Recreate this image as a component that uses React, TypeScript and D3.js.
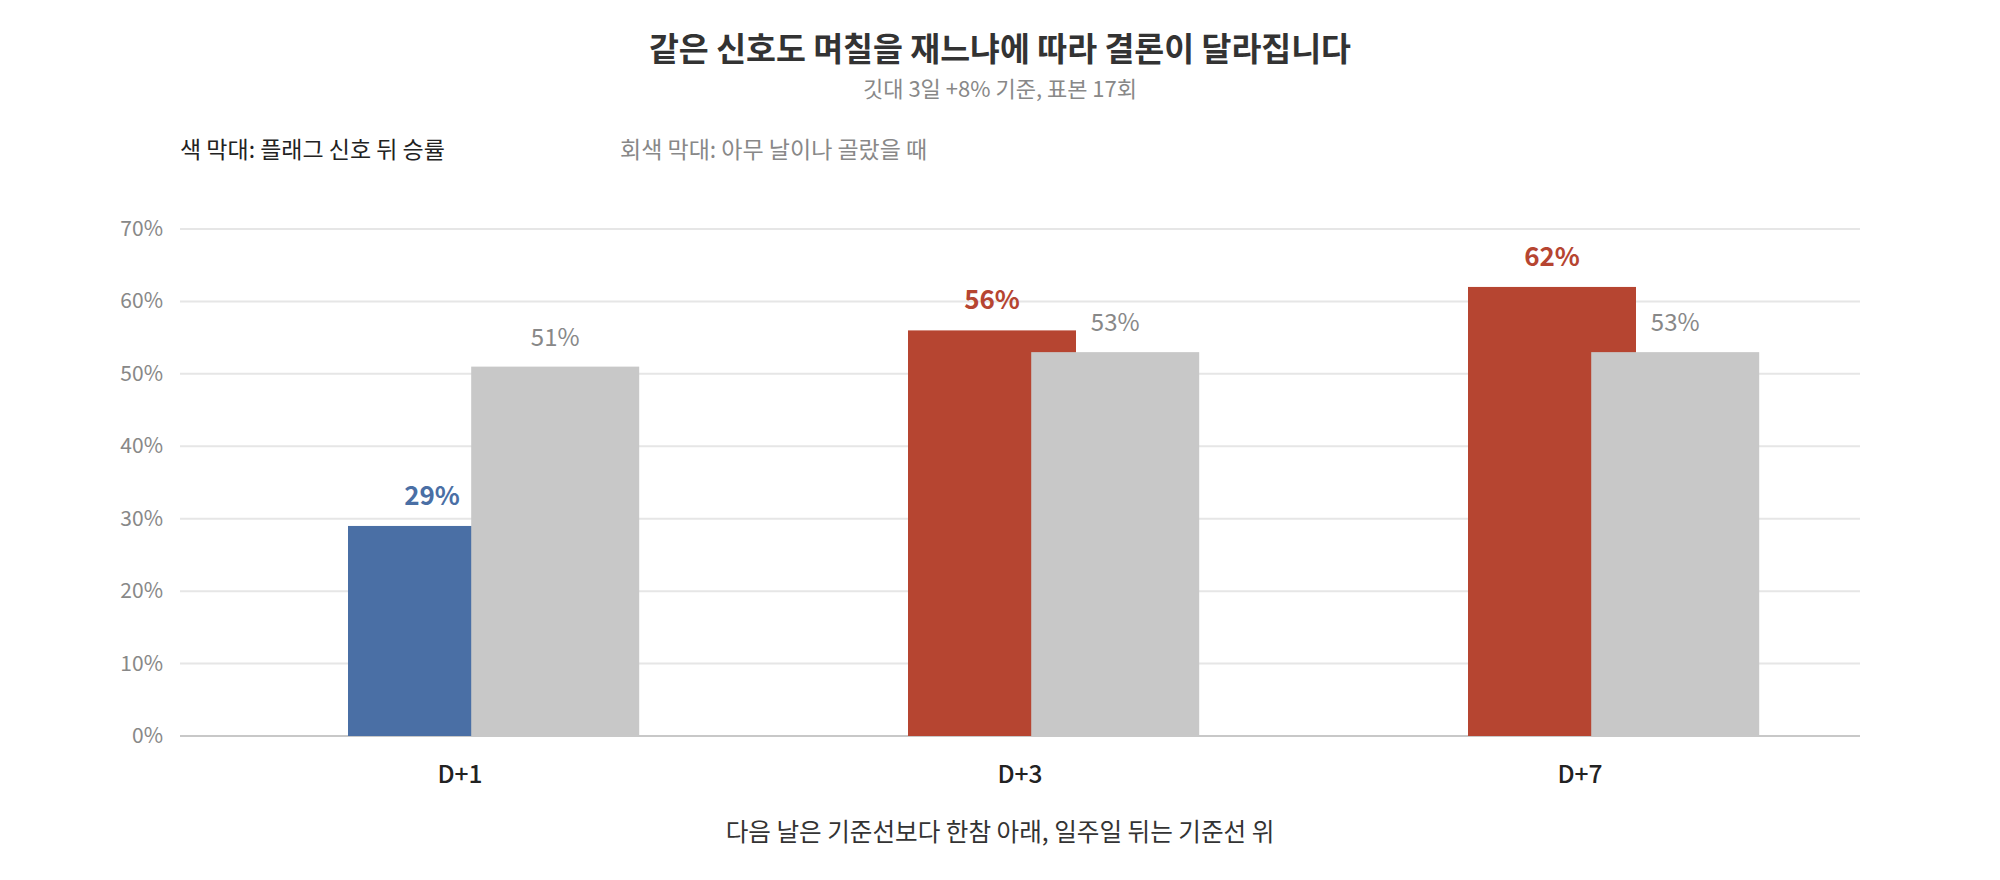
import * as d3 from "d3";

const categories = ["D+1", "D+3", "D+7"];
const signalWinRate = [29, 56, 62];
const randomWinRate = [51, 53, 53];
const signalColors = ["#4a6fa5", "#b64531", "#b64531"];
const yTicks = [0, 10, 20, 30, 40, 50, 60, 70];

const title = "같은 신호도 며칠을 재느냐에 따라 결론이 달라집니다";
const subtitle = "깃대 3일 +8% 기준, 표본 17회";
const legendSignal = "색 막대: 플래그 신호 뒤 승률";
const legendRandom = "회색 막대: 아무 날이나 골랐을 때";
const caption = "다음 날은 기준선보다 한참 아래, 일주일 뒤는 기준선 위";

const width = 2000;
const height = 880;
const marginLeft = 180;
const marginRight = 140;
const plotTop = 229;
const plotBottom = 736;
const font = "'Noto Sans CJK KR', 'Noto Sans', sans-serif";
const grayBar = "#c8c8c8";

export default function App() {
  const x = d3.scaleBand(categories, [marginLeft, width - marginRight]);
  const y = d3.scaleLinear([0, 70], [plotBottom, plotTop]);
  const bw = x.bandwidth();
  // colored bar sits left, gray one overlaps it on the right
  const barWidth = bw * 0.3;
  const signalOffset = bw * 0.3;
  const randomOffset = bw * 0.52;

  return (
    <div style={{ position: "fixed", left: 0, top: 0 }}>
      <svg width={width} height={height} style={{ display: "block", fontFamily: font }}>
        <rect width={width} height={height} fill="#fff" />
        <text x={width / 2} y={61} textAnchor="middle" fontSize={32.5} fontWeight={700} fill="#333">
          {title}
        </text>
        <text x={width / 2} y={97} textAnchor="middle" fontSize={22} fill="#888">
          {subtitle}
        </text>
        <text x={marginLeft} y={158} fontSize={23} fill="#222">
          {legendSignal}
        </text>
        <text x={620} y={158} fontSize={23} fill="#888">
          {legendRandom}
        </text>

        <g>
          {yTicks.map((t) => (
            <g key={t}>
              <line
                x1={marginLeft}
                x2={width - marginRight}
                y1={y(t)}
                y2={y(t)}
                stroke={t === 0 ? "#c8c8c8" : "#e6e6e6"}
                strokeWidth={2}
              />
              <text x={163} y={y(t) + 7} textAnchor="end" fontSize={21} fill="#888">
                {t}%
              </text>
            </g>
          ))}
        </g>

        {categories.map((c, i) => {
          const x0 = x(c)!;
          return (
            <g key={c}>
              <rect
                x={x0 + signalOffset}
                y={y(signalWinRate[i])}
                width={barWidth}
                height={y(0) - y(signalWinRate[i])}
                fill={signalColors[i]}
              />
              <rect
                x={x0 + randomOffset}
                y={y(randomWinRate[i])}
                width={barWidth}
                height={y(0) - y(randomWinRate[i])}
                fill={grayBar}
              />
              <text
                x={x0 + signalOffset + barWidth / 2}
                y={y(signalWinRate[i]) - 21}
                textAnchor="middle"
                fontSize={26}
                fontWeight={700}
                fill={signalColors[i]}
              >
                {signalWinRate[i]}%
              </text>
              <text
                x={x0 + randomOffset + barWidth / 2}
                y={y(randomWinRate[i]) - 21}
                textAnchor="middle"
                fontSize={24}
                fill="#888"
              >
                {randomWinRate[i]}%
              </text>
              <text
                x={x0 + bw / 2}
                y={783}
                textAnchor="middle"
                fontSize={24.5}
                fontWeight={500}
                fill="#222"
              >
                {c}
              </text>
            </g>
          );
        })}

        <text x={width / 2} y={841} textAnchor="middle" fontSize={24.6} fill="#333">
          {caption}
        </text>
      </svg>
    </div>
  );
}
